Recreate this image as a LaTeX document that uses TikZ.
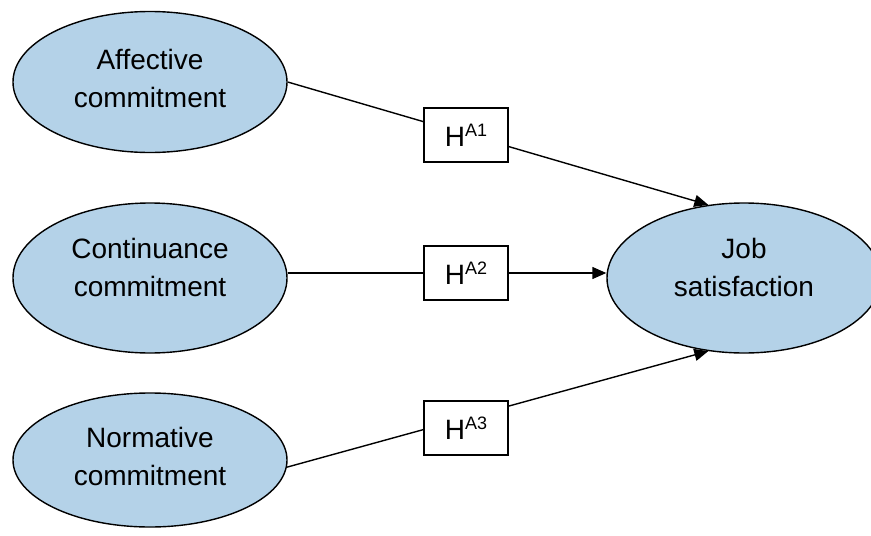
\documentclass[tikz,border=0pt]{standalone}
\usepackage{fontspec}
\setmainfont{Liberation Sans}
\usetikzlibrary{arrows.meta,shapes.geometric,backgrounds}
\definecolor{factorblue}{RGB}{180,210,232}

\begin{document}
\begin{tikzpicture}[x=1pt,y=-1pt,
    factor/.style={ellipse,draw,line width=1.4pt,fill=factorblue,
      minimum width=274pt,minimum height=146pt,inner sep=0pt},
    factortext/.style={align=center,font=\fontsize{28}{38}\selectfont},
    hypo/.style={rectangle,draw,line width=1.4pt,fill=white,
      minimum width=84pt,minimum height=54pt,inner sep=0pt,
      font=\fontsize{28}{34}\selectfont},
    arr/.style={line width=1.4pt,-{Triangle[length=14pt,width=12pt]}}]
  \useasboundingbox (0,0) rectangle (871,536);
  % ---- 独立変数（左の三つの楕円） ----
  \node[factor,minimum height=141pt] (aff) at (150,82) {};
  \node[factortext] (afftext) at (150,78) {Affective\\commitment};
  \node[factor,minimum height=150pt] (cont) at (150,278) {};
  \node[factortext] (conttext) at (150,267) {Continuance\\commitment};
  \node[factor,minimum height=134pt] (norm) at (150,460) {};
  \node[factortext] (normtext) at (150,456) {Normative\\commitment};
  % ---- 従属変数（右の楕円，右端は図の外へはみ出す） ----
  \node[factor,minimum height=150pt] (job) at (744,278) {};
  \node[factortext] (jobtext) at (744,267) {Job\\satisfaction};
  % ---- 仮説の箱 ----
  \node[hypo] (h1) at (466,135) {H\raisebox{10pt}{\fontsize{18}{18}\selectfont A1}};
  \node[hypo] (h2) at (466,273) {H\raisebox{10pt}{\fontsize{18}{18}\selectfont A2}};
  \node[hypo] (h3) at (466,428) {H\raisebox{10pt}{\fontsize{18}{18}\selectfont A3}};
  % ---- 矢印（箱の下を通る直線） ----
  \begin{scope}[on background layer]
    \draw[arr] (aff.east) -- (job.116);
    \draw[arr] (cont.east |- h2) -- (job.west |- h2);
    \draw[arr] (norm.-3) -- (job.244);
  \end{scope}
\end{tikzpicture}
\end{document}
